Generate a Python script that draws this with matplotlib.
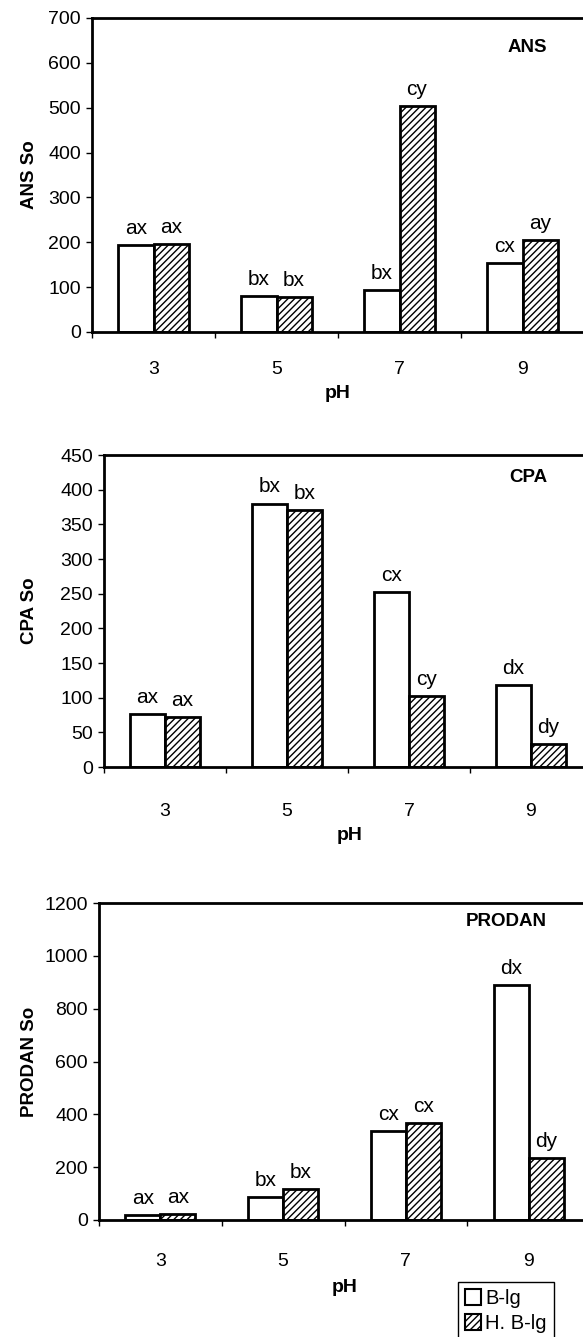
import matplotlib
matplotlib.use('Agg')
import matplotlib.pyplot as plt
from matplotlib.patches import Patch
from matplotlib.ticker import FixedLocator
import numpy as np

plt.rcParams['font.family'] = ['Liberation Sans', 'DejaVu Sans']
plt.rcParams['hatch.linewidth'] = 1.0

ph = ['3', '5', '7', '9']

ans_native = [194, 80, 94, 153]
ans_heated = [197, 78, 503, 205]
ans_native_lbl = ['ax', 'bx', 'bx', 'cx']
ans_heated_lbl = ['ax', 'bx', 'cy', 'ay']

cpa_native = [76, 380, 252, 118]
cpa_heated = [72, 371, 102, 33]
cpa_native_lbl = ['ax', 'bx', 'cx', 'dx']
cpa_heated_lbl = ['ax', 'bx', 'cy', 'dy']

prodan_native = [18, 87, 338, 890]
prodan_heated = [23, 116, 366, 235]
prodan_native_lbl = ['ax', 'bx', 'cx', 'dx']
prodan_heated_lbl = ['ax', 'bx', 'cx', 'dy']

legend_labels = ['B-lg', 'H. B-lg']

W, H = 583, 1337
fig = plt.figure(figsize=(W / 100, H / 100), dpi=100)


def px_axes(x0, x1, y0, y1):
    return fig.add_axes([x0 / W, 1 - y1 / H, (x1 - x0) / W, (y1 - y0) / H])


panels = [
    dict(box=(92, 584, 18, 332), native=ans_native, heated=ans_heated,
         nl=ans_native_lbl, hl=ans_heated_lbl, ymax=700, step=100,
         ylabel='ANS So', title='ANS', title_y=48, xlab_y=394, tick_pad=21),
    dict(box=(104, 592, 455, 767), native=cpa_native, heated=cpa_heated,
         nl=cpa_native_lbl, hl=cpa_heated_lbl, ymax=450, step=50,
         ylabel='CPA So', title='CPA', title_y=477, xlab_y=836, tick_pad=26),
    dict(box=(99, 590, 903, 1220), native=prodan_native, heated=prodan_heated,
         nl=prodan_native_lbl, hl=prodan_heated_lbl, ymax=1200, step=200,
         ylabel='PRODAN So', title='PRODAN', title_y=922, xlab_y=1288, tick_pad=24),
]

x = np.arange(len(ph))
w = 0.285

for p in panels:
    x0, x1, y0, y1 = p['box']
    ax = px_axes(x0, x1, y0, y1)
    b1 = ax.bar(x - w / 2, p['native'], w, color='white', edgecolor='black', linewidth=2)
    b2 = ax.bar(x + w / 2, p['heated'], w, color='white', edgecolor='black',
                linewidth=2, hatch='/////')
    for bars, lbls in ((b1, p['nl']), (b2, p['hl'])):
        for r, t in zip(bars, lbls):
            ax.annotate(t, (r.get_x() + r.get_width() / 2, r.get_height()),
                        xytext=(0, 8), textcoords='offset points',
                        ha='center', va='baseline', fontsize=15)
    ax.set_xlim(-0.5, 3.5)
    ax.set_ylim(0, p['ymax'])
    ax.set_yticks(np.arange(0, p['ymax'] + 1, p['step']))
    ax.set_xticks(x)
    ax.set_xticklabels(ph)
    ax.xaxis.set_minor_locator(FixedLocator(np.arange(-0.5, 4, 1)))
    ax.tick_params(axis='x', which='major', length=0, pad=p['tick_pad'], labelsize=14)
    ax.tick_params(axis='x', which='minor', length=4, width=1, direction='out')
    ax.tick_params(axis='y', length=4, width=1, direction='out', pad=4, labelsize=14)
    for s in ax.spines.values():
        s.set_linewidth(2)
    ax.set_ylabel(p['ylabel'], fontsize=13.5, fontweight='bold')
    ax.yaxis.set_label_coords(30 / W, 1 - (y0 + y1) / 2 / H, transform=fig.transFigure)
    ax.yaxis.label.set_va('center')
    ax.set_xlabel('pH', fontsize=14, fontweight='bold')
    ax.xaxis.set_label_coords((x0 + 3.5 * 123 / 2 + 30) / W, 1 - p['xlab_y'] / H,
                              transform=fig.transFigure)
    ax.xaxis.label.set_va('center')
    fig.text(547 / W, 1 - p['title_y'] / H, p['title'], ha='right', va='center',
             fontsize=13.5, fontweight='bold')

handles = [Patch(facecolor='white', edgecolor='black', linewidth=1.5),
           Patch(facecolor='white', edgecolor='black', linewidth=1.5, hatch='/////')]
fig.legend(handles, legend_labels, loc='upper left',
           bbox_to_anchor=(458 / W, 1 - 1282 / H), borderaxespad=0,
           frameon=True, fancybox=False,
           edgecolor='black', fontsize=14.5, handlelength=0.8, handleheight=0.8,
           handletextpad=0.2, borderpad=0.35, labelspacing=0.3, framealpha=1)

fig.savefig('out.png', dpi=100)
